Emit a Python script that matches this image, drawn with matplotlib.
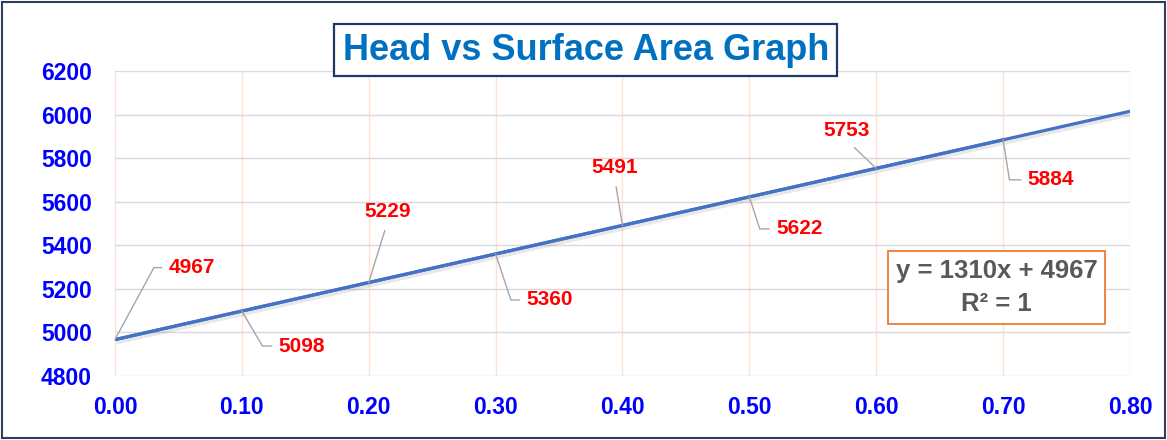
import numpy as np
import matplotlib
matplotlib.use("Agg")
import matplotlib.pyplot as plt
import matplotlib.patheffects as pe
from matplotlib.patches import Rectangle
from matplotlib.ticker import FormatStrFormatter, MultipleLocator

# head (x) vs surface area (y)
head = [0.0, 0.1, 0.2, 0.3, 0.4, 0.5, 0.6, 0.7]
area = [4967, 5098, 5229, 5360, 5491, 5622, 5753, 5884]

# label offsets in pixels (text centre) and leader style per point
label_offsets = [(77, 72), (60, -35), (19, 71), (54, -46),
                 (-8, 58), (50, -32), (-30, 38), (48, -40)]
leader_angles = [61.6, -59.5, None, -71.6, None, -72.0, None, -81.0]

plt.rcParams["font.family"] = "Liberation Sans"
plt.rcParams["font.weight"] = "bold"

fig = plt.figure(figsize=(11.67, 4.40), dpi=100)
ax = fig.add_axes([0.0985, 0.1455, 0.8698, 0.6932])

# trend line over the full x range
coef = np.polyfit(head, area, 1)
xt = np.array([0.0, 0.8])
ax.plot(xt, np.polyval(coef, xt), color="#4472C4", lw=2.3, solid_capstyle="butt",
        zorder=4,
        path_effects=[pe.SimpleLineShadow(offset=(1, -1.5), alpha=0.12, shadow_color="#444444",
                                          linewidth=4),
                      pe.Normal()])
ax.plot(head, area, color="#4472C4", lw=2.3, zorder=5)

ax.set_xlim(0, 0.8)
ax.set_ylim(4800, 6200)
ax.xaxis.set_major_locator(MultipleLocator(0.1))
ax.yaxis.set_major_locator(MultipleLocator(200))
ax.xaxis.set_major_formatter(FormatStrFormatter("%.2f"))

ax.grid(axis="y", color="#D9D9D9", lw=1.0)
ax.grid(axis="x", color="#FBE3D3", lw=1.0)
ax.set_axisbelow(True)
for s in ax.spines.values():
    s.set_visible(False)
ax.tick_params(length=0, labelsize=16.5, labelcolor="#0000FF")
ax.tick_params(axis="y", pad=16.5)
ax.tick_params(axis="x", pad=14.5)

# data labels with leader lines
for x, y, (dx, dy), ang in zip(head, area, label_offsets, leader_angles):
    if ang is None:
        arrow = dict(arrowstyle="-", color="#A6A6A6", lw=1.0, relpos=(0.5, 0.0),
                     shrinkA=5, shrinkB=0)
    else:
        arrow = dict(arrowstyle="-", color="#A6A6A6", lw=1.0, relpos=(0.0, 0.5),
                     shrinkA=3, shrinkB=0,
                     connectionstyle=f"angle,angleA=0,angleB={ang},rad=0")
    ax.annotate(str(y), xy=(x, y), xytext=(dx, dy), textcoords="offset pixels",
                ha="center", va="center", fontsize=15,
                color="#FF0000", arrowprops=arrow, zorder=6)

# trendline equation box
ax.text(0.695, 5205, f"y = {coef[0]:.0f}x + {coef[1]:.0f}\nR² = 1", ha="center", va="center",
        fontsize=18.5, color="#595959", linespacing=1.5, zorder=7,
        bbox=dict(boxstyle="square,pad=0.3", fc="white", ec="#ED7D31", lw=1.3))

fig.text(0.502, 0.886, "Head vs Surface Area Graph", ha="center", va="center",
         fontsize=26, color="#0070C0",
         bbox=dict(boxstyle="square,pad=0.23", fc="white", ec="#203864", lw=1.6), zorder=10)

fig.add_artist(Rectangle((0.002, 0.004), 0.996, 0.992, transform=fig.transFigure,
                         fill=False, ec="#2F3E5C", lw=1.5))

fig.savefig("out.png", dpi=100)
